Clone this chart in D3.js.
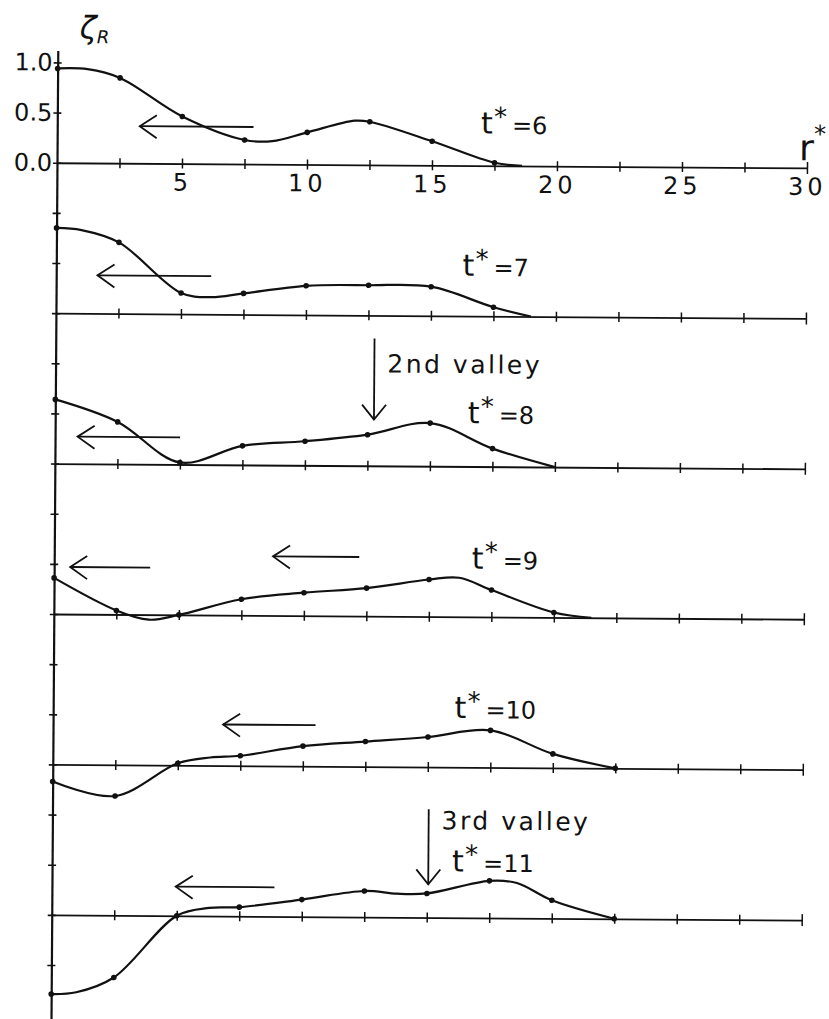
<!DOCTYPE html>
<html>
<head>
<meta charset="utf-8">
<script src="https://cdn.jsdelivr.net/npm/d3@7"></script>
<style>
  body { margin: 0; background: #fff; }
  svg { display: block; }
  text { font-family: "DejaVu Sans", sans-serif; fill: #111; }
</style>
</head>
<body>
<div id="container"></div>
<script>
/* valeurs : zeta_R aux points r* = 0, 2.5, 5 ... */
const rDots = [0, 2.5, 5, 7.5, 10, 12.5, 15, 17.5, 20, 22.5];
const tStar = [6, 7, 8, 9, 10, 11];

const zeta_t6 = [0.94, 0.85, 0.47, 0.24, 0.32, 0.43, 0.24, 0.03];
const zeta_t7 = [0.85, 0.71, 0.21, 0.21, 0.29, 0.30, 0.29, 0.09];
const zeta_t8 = [0.64, 0.42, 0.02, 0.19, 0.24, 0.31, 0.43, 0.18];
const zeta_t9 = [0.36, 0.04, 0.00, 0.16, 0.23, 0.28, 0.37, 0.27, 0.05];
const zeta_t10 = [-0.17, -0.31, 0.02, 0.10, 0.20, 0.25, 0.30, 0.37, 0.14, 0.00];
const zeta_t11 = [-0.79, -0.62, 0.00, 0.09, 0.17, 0.26, 0.24, 0.37, 0.18, 0.00];

/* points de la courbe entre les points marqués [r*, zeta] */
const between_t6 = [[1.2, 0.935], [8.6, 0.23], [11.9, 0.44], [18.6, 0.0]];
const between_t7 = [[1.0, 0.83], [6.2, 0.17], [19.0, 0.0]];
const between_t8 = [[20.0, 0.0]];
const between_t9 = [[3.8, -0.05], [16.2, 0.39], [21.5, 0.0]];
const between_t10 = [[6.3, 0.08]];
const between_t11 = [[1.0, -0.77], [6.3, 0.08], [13.8, 0.235], [18.6, 0.35]];

const panelValues = [zeta_t6, zeta_t7, zeta_t8, zeta_t9, zeta_t10, zeta_t11];
const panelBetween = [between_t6, between_t7, between_t8, between_t9, between_t10, between_t11];

/* axes */
const xTicks = d3.range(2.5, 30.01, 2.5);
const xLabels = [5, 10, 15, 20, 25, 30];
const yLabels = [1.0, 0.5, 0.0];

/* flèches horizontales (vers la gauche) */
const arrowPanel = [0, 1, 2, 3, 3, 4, 5];
const arrowTip = [3.3, 1.65, 0.9, 0.64, 8.75, 6.8, 4.95];
const arrowTail = [7.85, 6.2, 5.0, 3.84, 12.2, 10.5, 8.9];
const arrowLevel = [0.37, 0.38, 0.27, 0.47, 0.59, 0.41, 0.29];

/* vallées */
const valleyName = ["2nd valley", "3rd valley"];
const valleyPanel = [2, 5];
const valleyR = [12.75, 15.05];
const valleyTop = [1.27, 1.08];
const valleyTip = [0.46, 0.33];
const valleyTextLevel = [0.93, 0.88];

/* étiquettes t* */
const tLabelR = [16.95, 16.25, 16.5, 16.7, 16.05, 16.0];
const tLabelLevel = [0.32, 0.40, 0.43, 0.48, 0.49, 0.46];

const width = 829;
const height = 1019;
const ink = "#111";
const panelStep = 1.5; // décalage vertical entre panneaux, en unités de zeta

const x = d3.scaleLinear().domain([0, 30]).range([57, 807]);
// une seule échelle verticale pour tout l'axe
const yAll = d3.scaleLinear().domain([1.12, -8.54]).range([50.4, 1019.2]);
const y = (k, v) => yAll(v - panelStep * k);

const svg = d3.select("#container").append("svg")
    .attr("width", width)
    .attr("height", height);

// la figure scannée est légèrement tournée
const g = svg.append("g").attr("transform", "rotate(0.4, 57, 162)");

// axe vertical
const yAxis = g.append("g")
    .attr("transform", `translate(${x(0)},0)`)
    .call(d3.axisLeft(yAll)
        .tickValues(d3.range(1, -8.01, -0.5))
        .tickSizeOuter(0)
        .tickFormat(d => yLabels.includes(d) ? d3.format(".1f")(d) : ""));
yAxis.select(".domain").attr("stroke", ink).attr("stroke-width", 2.2);
yAxis.selectAll(".tick line").attr("x1", -4).attr("x2", 4).attr("stroke", ink).attr("stroke-width", 1.6);
yAxis.selectAll(".tick text")
    .attr("x", -5)
    .style("font-size", "24px")
    .attr("fill", ink);

// axes horizontaux, un par panneau
tStar.forEach((t, k) => {
    const ax = g.append("g")
        .attr("transform", `translate(0,${y(k, 0)})`)
        .call(d3.axisBottom(x)
            .tickValues(xTicks)
            .tickSizeOuter(0)
            .tickFormat(d => (k === 0 && xLabels.includes(d)) ? d : ""));
    ax.select(".domain").attr("stroke", ink).attr("stroke-width", 1.8);
    ax.selectAll(".tick line")
        .attr("y1", d => d === 30 ? -6 : -5)
        .attr("y2", d => d === 30 ? 6 : 5)
        .attr("stroke", ink).attr("stroke-width", 1.5);
    ax.selectAll(".tick text")
        .attr("y", 10)
        .style("font-size", "24px")
        .style("letter-spacing", "4px")
        .attr("fill", ink);
});

// courbes
const line = d3.line()
    .x(d => x(d[0]))
    .y(d => d[1])
    .curve(d3.curveCatmullRom.alpha(0.5));

panelValues.forEach((vals, k) => {
    const dots = vals.map((v, i) => [rDots[i], v]);
    const pts = dots.concat(panelBetween[k]).sort((a, b) => a[0] - b[0]);
    g.append("path")
        .attr("d", line(pts.map(p => [p[0], y(k, p[1])])))
        .attr("fill", "none")
        .attr("stroke", ink)
        .attr("stroke-width", 2.2);
    g.append("g")
        .selectAll("circle")
        .data(dots)
        .join("circle")
        .attr("cx", d => x(d[0]))
        .attr("cy", d => y(k, d[1]))
        .attr("r", 2.8)
        .attr("fill", ink);
});

// flèches horizontales
arrowPanel.forEach((k, i) => {
    const tx = x(arrowTip[i]);
    const ty = y(k, arrowLevel[i]);
    const a = g.append("g").attr("stroke", ink).attr("stroke-width", 1.8).attr("fill", "none");
    a.append("line").attr("x1", x(arrowTail[i])).attr("y1", ty).attr("x2", tx).attr("y2", ty);
    a.append("path").attr("d", `M${tx + 17},${ty - 11}L${tx},${ty}L${tx + 17},${ty + 12}`);
});

// vallées
valleyPanel.forEach((k, i) => {
    const vx = x(valleyR[i]);
    const tipY = y(k, valleyTip[i]);
    const a = g.append("g").attr("stroke", ink).attr("stroke-width", 1.8).attr("fill", "none");
    a.append("line").attr("x1", vx).attr("y1", y(k, valleyTop[i])).attr("x2", vx).attr("y2", tipY);
    a.append("path").attr("d", `M${vx - 12},${tipY - 15}L${vx},${tipY}L${vx + 12},${tipY - 15}`);
    g.append("text")
        .attr("x", vx + 13)
        .attr("y", y(k, valleyTextLevel[i]))
        .style("font-size", "25px")
        .style("letter-spacing", "2.5px")
        .text(valleyName[i]);
});

// étiquettes t* : trois morceaux de texte côte à côte
tStar.forEach((t, k) => {
    const lx = x(tLabelR[k]);
    const ly = y(k, tLabelLevel[k]);
    g.append("text").attr("x", lx).attr("y", ly).style("font-size", "30px").text("t");
    g.append("text").attr("x", lx + 13).attr("y", ly - 8).style("font-size", "26px").text("*");
    g.append("text").attr("x", lx + 31).attr("y", ly).style("font-size", "24px").text("=" + t);
});

// titres des axes
const zl = g.append("text").attr("x", 79).attr("y", 38);
zl.append("tspan").style("font-size", "31px").style("font-style", "italic").text("ζ");
zl.append("tspan").attr("dy", 5).style("font-size", "18px").style("font-style", "italic").text("R");

const rl = g.append("text").attr("x", x(30) - 8).attr("y", 155);
rl.append("tspan").style("font-size", "36px").text("r");
rl.append("tspan").attr("dy", -18).style("font-size", "24px").text("*");
</script>
</body>
</html>
